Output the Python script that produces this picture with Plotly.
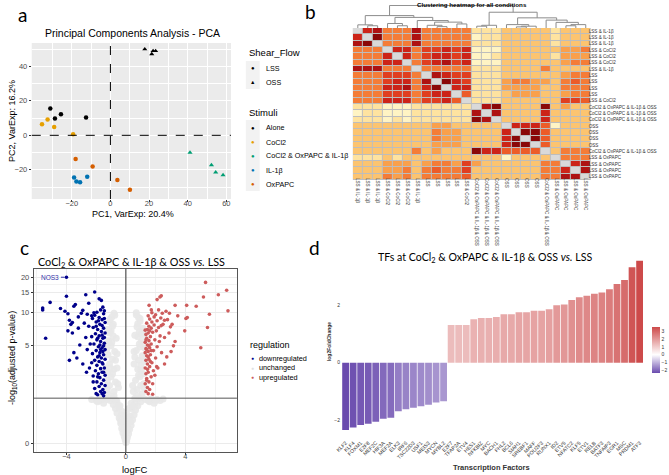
import numpy as np
import plotly.graph_objects as go

W, H = 669, 475
def px(x): return x / W
def py(y): return 1 - y / H

# ---------------- Panel a : PCA ----------------
stimuli = ["Alone", "CoCl2", "CoCl2 & OxPAPC & IL-1β", "IL-1β", "OxPAPC"]
stim_colors = ["#000000", "#E69F00", "#009E73", "#0072B2", "#D55E00"]
pca_pc1 = {
    "Alone": [-31.1, -28.7, -25.6, -12.6, 17.8, 21.4, 22.1, 23.4],
    "CoCl2": [-35.4, -32.5, -29.1, -19.3],
    "CoCl2 & OxPAPC & IL-1β": [41.2, 52.3, 54.5, 58.3],
    "IL-1β": [-18.8, -17.6, -15.7, -12.0],
    "OxPAPC": [-18.0, -9.2, 3.6, 10.1],
}
pca_pc2 = {
    "Alone": [15.5, 9.7, 12.2, 10.4, 49.9, 47.1, 48.9, 48.9],
    "CoCl2": [6.4, 9.1, 4.8, 0.6],
    "CoCl2 & OxPAPC & IL-1β": [-10.0, -17.2, -21.4, -23.0],
    "IL-1β": [-24.5, -26.7, -27.2, -24.0],
    "OxPAPC": [-13.7, -18.0, -25.9, -31.5],
}
pca_flow = {
    "Alone": ["LSS"] * 4 + ["OSS"] * 4,
    "CoCl2": ["LSS"] * 4,
    "CoCl2 & OxPAPC & IL-1β": ["OSS"] * 4,
    "IL-1β": ["LSS"] * 4,
    "OxPAPC": ["LSS"] * 4,
}
flow_symbols = {"LSS": "circle", "OSS": "triangle-up"}

# ---------------- Panel b : heatmap ----------------
hm_labels = (["LSS & IL-1β"] * 3 + ["LSS & CoCl2"] * 3 + ["LSS & IL-1β"] + ["LSS"] * 4 +
             ["LSS & CoCl2"] + ["CoCl2 & OxPAPC & IL-1β & OSS"] * 3 + ["OSS"] * 4 +
             ["CoCl2 & OxPAPC & IL-1β & OSS"] + ["LSS & OxPAPC"] * 4)
hm_levels = [
    [0, 8, 9, 5, 5, 5, 9, 5, 5, 5, 5, 5, 2, 2, 2, 3, 3, 3, 3, 3, 2, 3, 3, 3],
    [8, 0, 10, 5, 5, 5, 9, 5, 5, 5, 5, 5, 1, 2, 2, 3, 3, 3, 3, 3, 2, 3, 3, 3],
    [9, 10, 0, 5, 5, 5, 9, 5, 5, 5, 5, 5, 2, 2, 2, 3, 3, 3, 3, 3, 2, 3, 3, 3],
    [5, 5, 5, 0, 8, 8, 5, 7, 7, 8, 7, 8, 1, 1, 1, 3, 3, 3, 3, 3, 3, 4, 4, 5],
    [5, 5, 5, 8, 0, 8, 5, 7, 8, 8, 7, 8, 1, 1, 2, 3, 3, 3, 3, 3, 2, 4, 4, 4],
    [5, 5, 5, 8, 8, 0, 5, 7, 8, 9, 7, 8, 1, 1, 1, 3, 3, 3, 3, 3, 3, 4, 5, 5],
    [9, 9, 9, 5, 5, 5, 0, 5, 5, 5, 5, 5, 2, 2, 2, 3, 3, 3, 3, 5, 3, 3, 3, 3],
    [5, 5, 5, 7, 7, 7, 5, 0, 9, 8, 7, 7, 2, 2, 2, 3, 3, 3, 3, 3, 3, 4, 5, 5],
    [5, 5, 5, 7, 8, 8, 5, 9, 0, 10, 8, 7, 2, 2, 2, 4, 5, 5, 4, 4, 3, 5, 6, 5],
    [5, 5, 5, 8, 8, 9, 5, 8, 10, 0, 8, 8, 2, 2, 2, 4, 4, 4, 4, 3, 3, 5, 5, 5],
    [5, 5, 5, 7, 7, 7, 5, 7, 8, 8, 0, 6, 2, 2, 2, 3, 4, 4, 4, 3, 3, 4, 5, 5],
    [5, 5, 5, 8, 8, 8, 5, 7, 7, 8, 6, 0, 2, 2, 2, 3, 3, 3, 3, 3, 3, 7, 7, 6],
    [2, 2, 2, 1, 1, 1, 2, 2, 2, 2, 2, 2, 0, 9, 10, 3, 3, 3, 3, 10, 3, 4, 3, 3],
    [1, 2, 2, 1, 1, 1, 2, 2, 2, 2, 2, 2, 9, 0, 9, 3, 3, 3, 3, 8, 3, 3, 3, 3],
    [2, 2, 2, 1, 2, 1, 2, 2, 2, 2, 2, 2, 10, 9, 0, 3, 3, 3, 3, 8, 3, 3, 3, 3],
    [3, 3, 3, 3, 3, 3, 3, 3, 4, 4, 3, 3, 3, 3, 3, 0, 8, 8, 8, 6, 1, 3, 3, 3],
    [3, 3, 3, 3, 3, 3, 3, 3, 5, 4, 4, 3, 3, 3, 3, 8, 0, 10, 10, 6, 3, 3, 3, 3],
    [3, 3, 3, 3, 3, 3, 3, 3, 5, 4, 4, 3, 3, 3, 3, 8, 10, 0, 10, 6, 3, 3, 3, 3],
    [3, 3, 3, 3, 3, 3, 3, 3, 4, 4, 4, 3, 3, 3, 3, 8, 10, 10, 0, 6, 3, 3, 3, 3],
    [3, 3, 3, 3, 3, 3, 5, 3, 4, 3, 3, 3, 10, 8, 8, 6, 6, 6, 6, 0, 3, 5, 5, 5],
    [2, 2, 2, 3, 2, 3, 3, 3, 3, 3, 3, 3, 3, 3, 3, 1, 3, 3, 3, 3, 0, 5, 5, 5],
    [3, 3, 3, 4, 4, 4, 3, 4, 5, 5, 4, 7, 4, 3, 3, 3, 3, 3, 3, 5, 5, 0, 8, 9],
    [3, 3, 3, 4, 4, 5, 3, 5, 6, 5, 5, 7, 3, 3, 3, 3, 3, 3, 3, 5, 5, 8, 0, 9],
    [3, 3, 3, 5, 4, 5, 3, 5, 5, 5, 5, 6, 3, 3, 3, 3, 3, 3, 3, 5, 5, 9, 9, 0],
]
# dendrogram merges: (child_a, child_b, height); leaves 0..23, merge i -> node 24+i
dend_merges = [
    (1, 2, 0.10), (0, 24, 0.14),
    (4, 5, 0.10), (3, 26, 0.20),
    (8, 9, 0.06), (7, 28, 0.12), (10, 11, 0.18), (29, 30, 0.26), (6, 31, 0.33),
    (27, 32, 0.47), (25, 33, 0.55),
    (12, 13, 0.08), (35, 14, 0.12),
    (16, 17, 0.05), (37, 18, 0.08), (15, 38, 0.15),
    (21, 22, 0.10), (40, 23, 0.15), (20, 41, 0.25),
    (19, 42, 0.35), (39, 43, 0.45), (36, 44, 0.70), (34, 45, 1.0),
]

# ---------------- Panel c : volcano ----------------
down_logfc = [-5.6, -5.6, -5.1, -5.4, -4.4, -4.1, -4.0, -4.0, -3.9, -3.8, -3.7, -3.6, -3.9, -3.5, -3.4,
              -3.2, -3.0, -2.7, -2.9, -2.6, -2.5, -2.3, -2.1, -1.8, -1.65, -3.5, -3.8, -3.3, -2.9, -2.65,
              -3.1, -3.6, -2.7, -2.5, -2.8, -3.2, -2.4, -2.6, -2.45, -2.2, -2.0, -1.9, -1.5, -1.6,
              -2.25, -2.1, -1.95, -1.7, -1.5, -1.45, -1.55, -1.8, -2.0, -1.6, -1.4, -1.75, -2.2, -1.9,
              -1.5, -1.65, -2.05, -1.4, -1.8, -2.3, -1.55, -1.95, -1.7, -1.45, -2.15, -1.85, -1.6, -1.4,
              -2.0, -1.75, -2.25, -1.5, -1.9, -1.65, -1.4, -2.1, -1.8, -1.55, -2.3, -1.95, -1.45, -1.7,
              -2.05, -1.6, -1.85, -1.4, -2.2, -1.75, -1.5, -1.95, -1.65, -1.4, -1.8, -2.1, -1.55, -1.7,
              -1.45, -1.9, -1.6, -1.5, -1.8, -1.6, -1.7, -1.9, -1.5, -1.55, -1.75, -1.45, -2.0, -1.6,
              -1.85, -1.45, -2.15]
down_padj = [11.0, 10.6, 12.3, 5.9, 10.9, 10.3, 13.9, 20.1, 9.8, 8.6, 7.9, 8.2, 6.9, 11.4, 11.8,
             9.2, 9.9, 14.3, 10.5, 9.7, 12.1, 9.4, 15.1, 13.2, 12.8, 4.3, 3.6, 3.8, 3.3, 2.7,
             5.1, 6.6, 6.0, 7.6, 8.1, 7.3, 5.2, 4.6, 3.0, 2.1, 1.5, 1.45, 1.4, 1.5,
             8.9, 9.5, 10.1, 10.6, 9.8, 10.4, 11.2, 9.1, 8.3, 8.7, 8.2, 7.9, 7.4, 7.1,
             7.3, 6.8, 6.5, 6.6, 6.2, 6.1, 5.9, 5.7, 5.5, 5.3, 5.2, 4.9, 4.8, 4.6,
             4.5, 4.3, 4.2, 4.1, 3.9, 3.8, 3.7, 3.6, 3.5, 3.3, 3.4, 3.2, 3.0, 2.95,
             2.8, 2.7, 2.6, 2.5, 2.45, 2.35, 2.2, 2.1, 2.0, 1.9, 1.85, 1.75, 1.7, 1.6,
             1.55, 5.9, 6.3, 5.0, 4.0, 3.4, 4.6, 2.4, 2.7, 4.4, 5.1, 6.0, 7.6, 7.7,
             8.5, 8.9, 10.0]
up_logfc = [5.36, 6.78, 6.22, 5.22, 2.38, 2.29, 2.1, 6.87, 5.62, 4.73, 4.09, 3.31, 4.04, 4.13, 5.49,
            3.96, 5.04, 3.31, 3.04, 2.6, 2.07, 1.8, 1.56, 1.71, 2.93, 2.8, 2.38, 3.49, 3.11,
            1.35, 1.45, 1.3, 1.55, 1.4, 1.7, 1.35, 1.5, 1.85, 1.3, 1.6, 1.45, 1.75, 1.35, 1.55, 2.0,
            1.4, 1.65, 1.3, 1.5, 1.85, 1.35, 1.6, 2.1, 1.45, 1.7, 1.3, 1.55, 1.95, 1.4, 1.65, 2.3,
            1.35, 1.5, 1.8, 2.05, 1.45, 1.7, 2.2, 1.55, 1.9, 2.5, 1.4, 1.75, 2.1, 2.6, 1.6, 2.35,
            1.9, 2.0, 2.45, 1.75, 2.7, 2.2, 1.5, 1.3, 1.55, 1.4, 1.65, 1.45, 1.8, 1.5, 2.25, 2.6,
            2.9, 2.4, 3.2, 2.75, 3.0, 2.15, 1.6, 1.35, 1.5, 1.7, 1.4, 1.6, 1.95]
up_padj = [18.2, 15.6, 14.3, 13.7, 14.0, 13.7, 13.0, 10.4, 9.7, 11.4, 11.6, 11.6, 8.9, 9.1, 7.4,
           6.9, 4.8, 5.5, 4.4, 3.3, 3.1, 1.47, 11.6, 10.6, 9.9, 8.7, 7.7, 9.4, 7.9,
           1.6, 1.8, 2.0, 2.1, 2.3, 2.4, 2.6, 2.7, 2.8, 3.0, 3.1, 3.3, 3.4, 3.6, 3.7, 3.8,
           4.0, 4.1, 4.3, 4.4, 4.5, 4.7, 4.8, 4.9, 5.1, 5.2, 5.4, 5.6, 5.7, 5.9, 6.1, 6.2,
           6.4, 6.6, 6.7, 6.9, 7.1, 7.3, 7.4, 7.6, 7.8, 7.9, 8.1, 8.3, 8.5, 8.6, 8.8, 9.0,
           9.2, 9.6, 9.9, 10.0, 10.3, 10.6, 9.4, 7.0, 5.0, 4.6, 3.5, 2.9, 2.0, 1.5, 5.5, 6.0,
           6.6, 4.3, 5.0, 3.9, 7.5, 3.0, 6.9, 5.7, 3.9, 4.5, 2.2, 1.7, 2.5]
flat_logfc = [0.0, 0.05, -0.05, 0.1, -0.12, 0.18, -0.2, 0.25, -0.28, 0.05, -0.08, 0.35, -0.35, 0.15,
              -0.2, 0.45, -0.45, 0.3, -0.3, 0.55, -0.6, 0.1, 0.65, -0.7, 0.4, -0.45, 0.8, -0.85, 0.6,
              -0.6, 1.0, -1.05, 1.3, -1.3, 1.7, -1.7, 2.1, -2.0, 2.5, 0.9, -0.9,
              -1.2, 1.1, -0.8, 0.75, -1.1, 1.0, -0.7, 0.65, -1.0, 0.95, -1.2, 1.15, -0.8, 0.8, -1.1,
              1.0, -0.9, 0.85, -1.2, 1.1, -0.75, 0.7, -1.0, 0.95, -1.15, 1.05, -0.85, 0.8, -1.0, 0.9,
              -0.9, 0.75, -1.1, 0.95, -0.95, 0.85, 0.7, -0.8, -1.3, 1.25, -1.35, 1.2, -0.6, 0.55,
              -0.55, 0.5, -0.4, 0.35, -0.25, 0.2, -0.15, 0.1, 0.0, -0.65, 0.6, -0.5, 0.45, -1.5,
              1.6, -1.8, 1.9, -2.3, 2.3, -0.35, 0.3,
              -1.25, 1.2, -1.05, 1.0, -0.7, 0.6, -1.3, 1.25, -0.95, 0.9, -0.65, 0.6, -1.2, 1.15,
              -0.85, 0.8, -1.05, 0.95, -0.75, 0.7, -1.25, 1.2, -0.9, 0.85, -0.6, 0.55, -1.1, 1.05,
              -0.8, 0.75, -0.5, 0.45, -0.3, 0.25, -0.15, 0.12, -0.05, 0.02, -1.55, 1.5, -1.9, 2.0]
flat_padj = [0.02, 0.05, 0.08, 0.12, 0.15, 0.2, 0.22, 0.3, 0.32, 0.25, 0.35, 0.4, 0.45, 0.45,
             0.5, 0.55, 0.6, 0.65, 0.7, 0.7, 0.75, 0.6, 0.85, 0.9, 0.9, 0.95, 1.0, 1.05, 1.1,
             1.15, 1.15, 1.2, 1.25, 1.25, 1.28, 1.28, 1.25, 1.2, 1.27, 1.3, 1.3,
             1.5, 1.5, 1.6, 1.7, 1.9, 1.9, 2.1, 2.2, 2.4, 2.4, 2.7, 2.6, 2.9, 2.9, 3.3,
             3.2, 3.7, 3.6, 4.1, 4.0, 4.4, 4.5, 5.0, 4.9, 5.6, 5.5, 6.2, 6.1, 6.9, 6.8,
             7.6, 7.5, 8.3, 8.4, 9.2, 9.1, 10.0, 9.9, 3.0, 3.5, 5.2, 6.3, 3.0, 3.3,
             2.0, 1.6, 1.0, 1.1, 0.8, 0.9, 0.6, 0.7, 0.4, 1.2, 1.3, 1.8, 1.9, 1.1,
             1.15, 1.2, 1.1, 1.25, 1.2, 0.55, 0.5,
             2.2, 2.0, 3.0, 2.8, 3.6, 3.9, 4.6, 4.8, 5.4, 5.2, 5.9, 6.3, 7.1, 7.3,
             7.9, 8.0, 8.8, 8.9, 9.5, 9.6, 1.7, 1.8, 2.6, 2.5, 4.2, 4.4, 6.6, 6.5,
             1.4, 1.4, 1.0, 1.0, 0.5, 0.5, 0.3, 0.3, 0.1, 0.1, 1.25, 1.2, 1.15, 1.2]
padj_threshold = 0.05
y_ticks_c = [0, 5, 10, 15, 20]

# ---------------- Panel d : TFs ----------------
tf_names = ["KLF2", "KLF4", "FOXM1", "E2F8", "MEF2C", "HIF3A", "MEF2A", "ELK3", "IRF6", "TSC22D3",
            "USF1", "MEIS3", "MYCN", "MYBL2", "E2F7", "TFAP2A", "ETV4", "HES1", "NFKBIZ", "MYC",
            "BACH1", "FHL2", "BCL6", "SIAH1", "SREBF1", "MAFF", "POU2F3", "RUNX1", "ID2", "ETV5",
            "NFATC2", "KLF5", "ETV1", "RELB", "BATF3", "TNFAIP3", "EGR1", "MSC", "PRDM1", "ATF3"]
tf_lfc = [-2.33, -2.25, -2.16, -2.12, -2.05, -1.94, -1.91, -1.68, -1.61, -1.56,
          -1.51, -1.46, -1.38, -1.34, 1.31, 1.31, 1.31, 1.51, 1.55, 1.55,
          1.58, 1.68, 1.68, 1.75, 1.75, 1.80, 1.80, 1.85, 1.99, 2.02,
          2.17, 2.27, 2.32, 2.39, 2.43, 2.55, 2.73, 2.87, 3.31, 3.53]

fig = go.Figure()
FONT = "Liberation Sans, Arial, sans-serif"
CAL = "Lato, Carlito, sans-serif"

# ---- Panel a traces
for s, c in zip(stimuli, stim_colors):
    fig.add_trace(go.Scatter(
        x=pca_pc1[s], y=pca_pc2[s], mode="markers", xaxis="x", yaxis="y",
        marker=dict(color=c, size=4.5, symbol=[flow_symbols[f] for f in pca_flow[s]]),
        showlegend=False, hoverinfo="skip"))

# ---- Panel b heatmap
n = len(hm_labels)
z_main = [[(v if i != j else None) for j, v in enumerate(row)] for i, row in enumerate(hm_levels)]
z_diag = [[(1 if i == j else None) for j in range(n)] for i in range(n)]
heat_scale = [[0.0, "#FFF4C4"], [1 / 9, "#FEE3A0"], [2 / 9, "#FCC470"], [3 / 9, "#F9A04C"],
              [4 / 9, "#F47C37"], [5 / 9, "#EC5C29"], [6 / 9, "#E03E20"], [7 / 9, "#CC2418"],
              [8 / 9, "#AE1212"], [1.0, "#8A0808"]]
fig.add_trace(go.Heatmap(z=z_main, x=list(range(n)), y=list(range(n)), xaxis="x2", yaxis="y2",
                         colorscale=heat_scale, zmin=1, zmax=10, showscale=False, xgap=1, ygap=1,
                         hoverinfo="skip"))
fig.add_trace(go.Heatmap(z=z_diag, x=list(range(n)), y=list(range(n)), xaxis="x2", yaxis="y2",
                         colorscale=[[0, "#D9D9D9"], [1, "#D9D9D9"]], showscale=False, xgap=1, ygap=1,
                         hoverinfo="skip"))
# dendrogram
node_x = {i: float(i) for i in range(n)}
node_h = {i: 0.0 for i in range(n)}
dx, dy = [], []
for k, (a, b, h) in enumerate(dend_merges):
    nid = n + k
    dx += [node_x[a], node_x[a], node_x[b], node_x[b], None]
    dy += [node_h[a], h, h, node_h[b], None]
    node_x[nid] = (node_x[a] + node_x[b]) / 2
    node_h[nid] = h
fig.add_trace(go.Scatter(x=dx, y=dy, mode="lines", xaxis="x3", yaxis="y3",
                         line=dict(color="#8C8C8C", width=1), showlegend=False, hoverinfo="skip"))

# ---- Panel c traces
fig.add_trace(go.Scatter(x=flat_logfc, y=np.log1p(flat_padj), mode="markers", xaxis="x4", yaxis="y4",
                         marker=dict(color="#E8E8E8", size=7, opacity=0.9), showlegend=False, hoverinfo="skip"))
fig.add_trace(go.Scatter(x=down_logfc, y=np.log1p(down_padj), mode="markers", xaxis="x4", yaxis="y4",
                         marker=dict(color="#00008B", size=3.6), showlegend=False, hoverinfo="skip"))
fig.add_trace(go.Scatter(x=up_logfc, y=np.log1p(up_padj), mode="markers", xaxis="x4", yaxis="y4",
                         marker=dict(color="#CD5C5C", size=3.6), showlegend=False, hoverinfo="skip"))

# ---- Panel d bars
d_scale = [[0.0, "#6A4BAE"], [2.33 / 5.86, "#FFFFFF"], [1.0, "#CD4A4A"]]
fig.add_trace(go.Bar(x=list(range(len(tf_names))), y=tf_lfc, xaxis="x5", yaxis="y5",
                     marker=dict(color=tf_lfc, colorscale=d_scale, cmin=min(tf_lfc), cmax=max(tf_lfc),
                                 line=dict(width=0),
                                 colorbar=dict(x=px(652), xanchor="left", y=py(350), yanchor="middle",
                                               len=46 / H, lenmode="fraction", thickness=8,
                                               tickvals=[-2, -1, 0, 1, 2, 3], ticks="",
                                               tickfont=dict(size=5, color="#333", family=FONT),
                                               outlinewidth=0, xpad=0, ypad=0)),
                     showlegend=False, hoverinfo="skip"))

tick_small = dict(size=7.5, color="#4D4D4D", family=FONT)
layout = dict(
    width=W, height=H, margin=dict(l=0, r=0, t=0, b=0),
    paper_bgcolor="white", plot_bgcolor="white", font=dict(family=FONT, color="black"),
    bargap=0.1,
    xaxis=dict(domain=[px(26), px(227)], range=[-40.7, 62.4], tickvals=[-20, 0, 20, 40, 60],
               showgrid=True, gridcolor="white", gridwidth=1, zeroline=False,
               minor=dict(tickvals=[-30, -10, 10, 30, 50], showgrid=True, gridcolor="white", gridwidth=0.5),
               ticks="outside", ticklen=2, tickcolor="#333", tickfont=tick_small, anchor="y",
               ticklabelstandoff=-5),
    yaxis=dict(domain=[py(199), py(43)], range=[-36.9, 53.5], tickvals=[-20, 0, 20, 40],
               showgrid=True, gridcolor="white", gridwidth=1, zeroline=False,
               minor=dict(tickvals=[-30, -10, 10, 30, 50], showgrid=True, gridcolor="white", gridwidth=0.5),
               ticks="outside", ticklen=2, tickcolor="#333", tickfont=tick_small, anchor="x"),
    xaxis2=dict(domain=[px(350), px(590)], range=[-0.5, n - 0.5], tickvals=list(range(n)),
                ticktext=hm_labels, tickangle=90, tickfont=dict(size=4.6, color="#333", family=FONT),
                showgrid=False, zeroline=False, ticks="", anchor="y2", ticklabelstandoff=-3),
    yaxis2=dict(domain=[py(180), py(28)], range=[n - 0.5, -0.5], tickvals=list(range(n)),
                ticktext=hm_labels, side="right", tickfont=dict(size=4.6, color="#333", family=FONT),
                showgrid=False, zeroline=False, ticks="", anchor="x2", ticklabelstandoff=-3),
    xaxis3=dict(domain=[px(350), px(590)], range=[-0.5, n - 0.5], visible=False, anchor="y3"),
    yaxis3=dict(domain=[py(28), py(5)], range=[0, 1.02], visible=False, anchor="x3"),
    xaxis4=dict(domain=[px(28), px(233)], range=[-6.2, 7.47], tickvals=[-4, 0, 4],
                showgrid=True, gridcolor="#EBEBEB", gridwidth=1, zeroline=False,
                minor=dict(tickvals=[-6, -2, 2, 6], showgrid=True, gridcolor="#F3F3F3", gridwidth=0.5),
                showline=True, mirror=True, linecolor="#555", linewidth=1,
                ticks="outside", ticklen=2, tickcolor="#333", tickfont=tick_small, anchor="y4",
                ticklabelstandoff=-5),
    yaxis4=dict(domain=[py(452), py(269)], range=[-0.153, 3.20],
                tickvals=list(np.log1p(y_ticks_c)), ticktext=[str(v) for v in y_ticks_c],
                showgrid=True, gridcolor="#EBEBEB", gridwidth=1, zeroline=False,
                minor=dict(tickvals=list(np.log1p([2.5, 7.5, 12.5, 17.5])), showgrid=True,
                           gridcolor="#F3F3F3", gridwidth=0.5),
                showline=True, mirror=True, linecolor="#555", linewidth=1,
                ticks="outside", ticklen=2, tickcolor="#333", tickfont=tick_small, anchor="x4"),
    xaxis5=dict(domain=[px(338.1), px(643.9)], range=[-0.6, len(tf_names) - 0.4],
                tickvals=list(range(len(tf_names))), ticktext=tf_names, tickangle=-45,
                tickfont=dict(size=5.2, color="#333", family=FONT), showgrid=False, zeroline=False,
                ticks="", showline=False, anchor="y5"),
    yaxis5=dict(domain=[py(438), py(252)], range=[-2.61, 3.837], tickvals=[-2, 0, 2],
                tickfont=dict(size=5, color="#333", family=FONT), showgrid=False, zeroline=False,
                ticks="", showline=False, anchor="x5"),
)
fig.update_layout(**layout)

shapes = [
    dict(type="rect", xref="x domain", yref="y domain", x0=0, x1=1, y0=0, y1=1,
         fillcolor="#EBEBEB", line=dict(width=0), layer="below"),
    dict(type="line", xref="x", yref="y domain", x0=0, x1=0, y0=0, y1=1,
         line=dict(color="black", width=1, dash="dash")),
    dict(type="line", xref="x domain", yref="y", x0=0, x1=1, y0=0, y1=0,
         line=dict(color="black", width=1, dash="dash")),
    dict(type="rect", xref="x2 domain", yref="y2 domain", x0=0, x1=1, y0=0, y1=1,
         fillcolor="#BDBDBD", line=dict(width=0), layer="below"),
    dict(type="line", xref="x4 domain", yref="y4", x0=0, x1=1,
         y0=float(np.log1p(-np.log10(padj_threshold))), y1=float(np.log1p(-np.log10(padj_threshold))),
         line=dict(color="#555", width=1)),
    dict(type="line", xref="x4", yref="y4 domain", x0=0, x1=0, y0=0, y1=1,
         line=dict(color="#333", width=1)),
    # legend key backgrounds (panel a)
    dict(type="rect", xref="paper", yref="paper", x0=px(242), x1=px(256), y0=py(89), y1=py(61),
         fillcolor="#F2F2F2", line=dict(width=0), layer="below"),
    dict(type="rect", xref="paper", yref="paper", x0=px(242), x1=px(256), y0=py(191), y1=py(120),
         fillcolor="#F2F2F2", line=dict(width=0), layer="below"),
]
fig.update_layout(shapes=shapes)

ann = []
def A(text, x, y, size, xanchor="center", yanchor="middle", color="black", family=FONT, angle=0):
    ann.append(dict(text=text, x=px(x), y=py(y), xref="paper", yref="paper", showarrow=False,
                    xanchor=xanchor, yanchor=yanchor, textangle=angle,
                    font=dict(size=size, color=color, family=family)))

# panel letters
A("a", 16.5, 14, 19, family=CAL)
A("b", 307, 11, 19, family=CAL)
A("c", 19, 247, 19, family=CAL)
A("d", 311, 247, 19, family=CAL)
# panel a text
A("Principal Components Analysis - PCA", 128, 33, 10.5)
A("PC1, VarExp: 20.4%", 128, 214, 9)
A("PC2, VarExp: 16.2%", 6, 121, 9, angle=-90)
A("Shear_Flow", 243, 53, 9.5, xanchor="left")
for lab, yy in zip(["LSS", "OSS"], [68.5, 82.3]):
    A("●" if lab == "LSS" else "▲", 249, yy, 6 if lab == "LSS" else 5.5)
    A(lab, 260, yy, 7.2, xanchor="left")
A("Stimuli", 243, 112.3, 9.5, xanchor="left")
for s, c, yy in zip(stimuli, stim_colors, [127.7, 142, 155.7, 170, 184.3]):
    A("●", 249, yy, 6, color=c)
    A(s, 260, yy, 7.2, xanchor="left")
# panel b title
A("<b>Clustering heatmap for all conditions</b>", 470, 4, 6.2)
# panel c text
A("CoCl<sub>2</sub> & OxPAPC & IL-1β & OSS <i>vs.</i> LSS", 127, 262, 10.8, family=CAL)
A("logFC", 130, 469, 9.5)
A("-log<sub>10</sub>(adjusted p-value)", 6, 358, 9, angle=-90)
A("regulation", 244, 345, 9, xanchor="left")
for lab, c, yy in zip(["downregulated", "unchanged", "upregulated"], ["#00008B", "#E0E0E0", "#CD5C5C"],
                      [358.3, 367.7, 377]):
    A("●", 248.5, yy, 5, color=c)
    A(lab, 253, yy, 7.3, xanchor="left")
# panel d text
A("TFs at CoCl<sub>2</sub> & OxPAPC & IL-1β & OSS <i>vs.</i> LSS", 483, 258, 10.6, family=CAL)
A("<b>Transcription Factors</b>", 490, 467, 7.5, color="#333")
A("<b>log2FoldChange</b>", 326, 342, 5, angle=-90, color="#333")

# NOS3 label
ann.append(dict(text="NOS3", x=-4.0, y=float(np.log1p(20.1)), xref="x4", yref="y4", showarrow=True,
                ax=-16, ay=0, arrowhead=0, arrowwidth=1, arrowcolor="#3333AA", standoff=2,
                font=dict(size=6.5, color="#3333AA", family=FONT)))
fig.update_layout(annotations=ann)

fig.write_html("out.html", post_script="document.body.style.margin='0';",
               config={"displayModeBar": False})
